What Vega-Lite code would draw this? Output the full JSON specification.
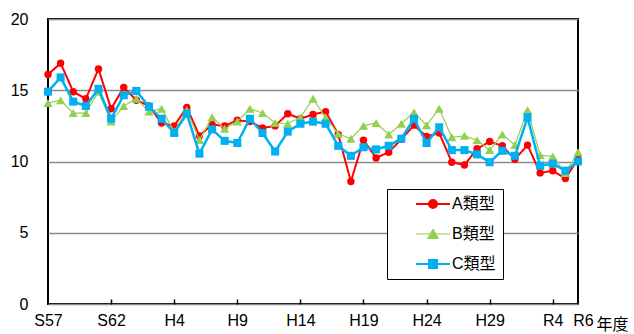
{
  "$schema": "https://vega.github.io/schema/vega-lite/v6.json",
  "autosize": "none",
  "width": 530,
  "height": 285,
  "padding": {"left": 48, "top": 19, "right": 56, "bottom": 30},
  "background": "white",
  "config": {
    "view": {"stroke": "black", "strokeWidth": 2},
    "font": "Liberation Sans"
  },
  "data": {
    "values": [
      {"year": 1982, "A類型": 16.1, "B類型": 14.1, "C類型": 14.9},
      {"year": 1983, "A類型": 16.9, "B類型": 14.3, "C類型": 15.9},
      {"year": 1984, "A類型": 14.9, "B類型": 13.4, "C類型": 14.2},
      {"year": 1985, "A類型": 14.4, "B類型": 13.4, "C類型": 13.9},
      {"year": 1986, "A類型": 16.5, "B類型": 14.9, "C類型": 15.1},
      {"year": 1987, "A類型": 13.7, "B類型": 12.8, "C類型": 13.0},
      {"year": 1988, "A類型": 15.2, "B類型": 13.9, "C類型": 14.65},
      {"year": 1989, "A類型": 14.3, "B類型": 14.4, "C類型": 14.95},
      {"year": 1990, "A類型": 13.9, "B類型": 13.5, "C類型": 13.85},
      {"year": 1991, "A類型": 12.7, "B類型": 13.7, "C類型": 13.0},
      {"year": 1992, "A類型": 12.5, "B類型": 12.1, "C類型": 12.0},
      {"year": 1993, "A類型": 13.8, "B類型": 13.6, "C類型": 13.35},
      {"year": 1994, "A類型": 11.8, "B類型": 11.5, "C類型": 10.55},
      {"year": 1995, "A類型": 12.6, "B類型": 13.1, "C類型": 12.25},
      {"year": 1996, "A類型": 12.5, "B類型": 12.3, "C類型": 11.45},
      {"year": 1997, "A類型": 12.9, "B類型": 12.8, "C類型": 11.3},
      {"year": 1998, "A類型": 12.8, "B類型": 13.7, "C類型": 13.0},
      {"year": 1999, "A類型": 12.35, "B類型": 13.4, "C類型": 12.0},
      {"year": 2000, "A類型": 12.5, "B類型": 12.7, "C類型": 10.7},
      {"year": 2001, "A類型": 13.35, "B類型": 12.65, "C類型": 12.1},
      {"year": 2002, "A類型": 13.0, "B類型": 13.1, "C類型": 12.65},
      {"year": 2003, "A類型": 13.3, "B類型": 14.4, "C類型": 12.8},
      {"year": 2004, "A類型": 13.5, "B類型": 13.1, "C類型": 12.65},
      {"year": 2005, "A類型": 11.9, "B類型": 11.95, "C類型": 11.1},
      {"year": 2006, "A類型": 8.6, "B類型": 11.6, "C類型": 10.4},
      {"year": 2007, "A類型": 11.5, "B類型": 12.5, "C類型": 11.0},
      {"year": 2008, "A類型": 10.25, "B類型": 12.7, "C類型": 10.85},
      {"year": 2009, "A類型": 10.65, "B類型": 11.9, "C類型": 11.1},
      {"year": 2010, "A類型": 11.55, "B類型": 12.65, "C類型": 11.6},
      {"year": 2011, "A類型": 12.55, "B類型": 13.45, "C類型": 13.0},
      {"year": 2012, "A類型": 11.75, "B類型": 12.55, "C類型": 11.3},
      {"year": 2013, "A類型": 12.0, "B類型": 13.7, "C類型": 12.4},
      {"year": 2014, "A類型": 9.95, "B類型": 11.7, "C類型": 10.8},
      {"year": 2015, "A類型": 9.75, "B類型": 11.8, "C類型": 10.8},
      {"year": 2016, "A類型": 10.9, "B類型": 11.5, "C類型": 10.5},
      {"year": 2017, "A類型": 11.4, "B類型": 10.8, "C類型": 9.95},
      {"year": 2018, "A類型": 11.1, "B類型": 11.9, "C類型": 10.75},
      {"year": 2019, "A類型": 10.15, "B類型": 11.15, "C類型": 10.4},
      {"year": 2020, "A類型": 11.15, "B類型": 13.6, "C類型": 13.1},
      {"year": 2021, "A類型": 9.2, "B類型": 10.45, "C類型": 9.7},
      {"year": 2022, "A類型": 9.35, "B類型": 10.35, "C類型": 9.85},
      {"year": 2023, "A類型": 8.8, "B類型": 9.2, "C類型": 9.35},
      {"year": 2024, "A類型": 10.2, "B類型": 10.65, "C類型": 10.0}
    ]
  },
  "transform": [
    {"fold": ["A類型", "B類型", "C類型"], "as": ["type", "v"]}
  ],
  "encoding": {
    "x": {
      "field": "year",
      "type": "quantitative",
      "scale": {"domain": [1982, 2024], "nice": false, "zero": false},
      "axis": {
        "values": [1982, 1987, 1992, 1997, 2002, 2007, 2012, 2017, 2022, 2024],
        "labelExpr": "datum.value==1982?'S57':datum.value==1987?'S62':datum.value==1992?'H4':datum.value==1997?'H9':datum.value==2002?'H14':datum.value==2007?'H19':datum.value==2012?'H24':datum.value==2017?'H29':datum.value==2022?'R4':'R6'",
        "grid": false,
        "domain": false,
        "ticks": true,
        "tickSize": -5,
        "tickColor": {"condition": {"test": "datum.value==1982 || datum.value==2024", "value": "transparent"}, "value": "black"},
        "tickWidth": 1.5,
        "labelFontSize": 16,
        "labelColor": "black",
        "labelPadding": 13,
        "labelFlush": false,
        "labelOverlap": false,
        "labelOffset": {"condition": {"test": "datum.value==2024", "value": 5}, "value": 0},
        "title": "年度",
        "titleFont": "Noto Sans CJK JP",
        "titleFontSize": 16,
        "titleFontWeight": "normal",
        "titleColor": "black",
        "titleAnchor": "start",
        "titleAlign": "left",
        "titleX": 548,
        "titleY": 12,
        "titleBaseline": "top"
      }
    },
    "y": {
      "field": "v",
      "type": "quantitative",
      "scale": {"domain": [0, 20], "nice": false},
      "axis": {
        "values": [0, 5, 10, 15, 20],
        "grid": true,
        "gridColor": "#8a8a8a",
        "gridWidth": 1.5,
        "domain": false,
        "ticks": false,
        "labelFontSize": 16,
        "labelColor": "black",
        "labelPadding": 20,
        "title": null
      }
    },
    "color": {
      "field": "type",
      "type": "nominal",
      "scale": {"domain": ["A類型", "B類型", "C類型"], "range": ["#FF0000", "#92D050", "#00B0F0"]},
      "legend": {
        "title": null,
        "orient": "none",
        "legendX": 339,
        "legendY": 170,
        "strokeColor": "black",
        "fillColor": "white",
        "padding": 7,
        "rowPadding": 14,
        "symbolOffset": 31,
        "symbolSize": 400,
        "symbolType": {"expr": "datum.value==='A類型' ? 'M-1.7,0H1.7M0.4,0A0.4,0.4,0,1,1,-0.4,0A0.4,0.4,0,1,1,0.4,0Z' : datum.value==='B類型' ? 'M-1.7,0H1.7M0,-0.5L0.55,0.45L-0.55,0.45Z' : 'M-1.7,0H1.7M-0.4,-0.4H0.4V0.4H-0.4Z'"},
        "symbolStrokeWidth": {"expr": "datum.value==='B類型' ? 1 : 2"},
        "symbolStrokeColor": {"expr": "scale('color', datum.value)"},
        "symbolFillColor": {"expr": "scale('color', datum.value)"},
        "symbolOpacity": 1,
        "labelOffset": 11,
        "labelFontSize": 16,
        "labelFont": "Liberation Sans, Noto Sans CJK JP",
        "labelColor": "black",
        "labelExpr": "datum.label + '\u00a0\u00a0\u00a0\u00a0\u00a0\u00a0\u00a0\u00a0\u00a0\u00a0'"
      }
    }
  },
  "layer": [
    {
      "transform": [{"filter": "datum.type === 'A類型'"}],
      "mark": {"type": "line", "strokeWidth": 2}
    },
    {
      "transform": [{"filter": "datum.type === 'A類型'"}],
      "mark": {"type": "point", "shape": "circle", "filled": true, "opacity": 1, "size": 55}
    },
    {
      "transform": [{"filter": "datum.type === 'B類型'"}],
      "mark": {"type": "line", "strokeWidth": 1.2}
    },
    {
      "transform": [{"filter": "datum.type === 'B類型'"}],
      "mark": {"type": "point", "shape": "triangle-up", "filled": true, "opacity": 1, "size": 85}
    },
    {
      "transform": [{"filter": "datum.type === 'C類型'"}],
      "mark": {"type": "line", "strokeWidth": 2.5}
    },
    {
      "transform": [{"filter": "datum.type === 'C類型'"}],
      "mark": {"type": "point", "shape": "square", "filled": true, "opacity": 1, "size": 65}
    }
  ]
}
